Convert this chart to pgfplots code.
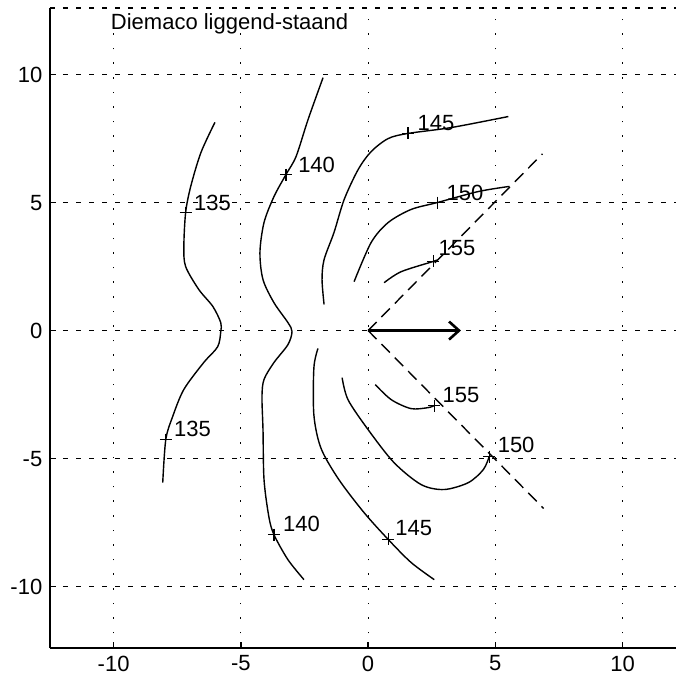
\documentclass[border=0pt]{standalone}
\usepackage{fontspec}
\setmainfont{Liberation Sans}
\usepackage{pgfplots}
\pgfplotsset{compat=1.18}
\usetikzlibrary{arrows.meta}
\tikzset{lbl/.style={anchor=west, inner sep=0pt, font=\fontsize{11}{13}\selectfont}}
\begin{document}
\fontsize{11}{13}\selectfont
\begin{tikzpicture}
\begin{axis}[
 scale only axis, width=313pt, height=320pt,
 xmin=-12.5, xmax=12.1, ymin=-12.4, ymax=12.6,
 axis x line=bottom, axis y line=left,
 axis line style={-, line width=1.2pt},
 xtick={-10,-5,0,5,10}, ytick={-10,-5,0,5,10},
 tick align=inside, major tick length=3pt,
 tick style={black, line width=0.7pt},
 grid=major,
 x grid style={black, line width=0.55pt, dash pattern=on 0.8pt off 6.5pt},
 y grid style={black, line width=0.55pt, dash pattern=on 2.5pt off 4pt},
 /pgf/number format/assume math mode=true,
 ticklabel style={font=\fontsize{11}{13}\selectfont},
 clip=false,
 curve/.style={black, line width=0.7pt, smooth, tension=0.5},
 mk/.style={black, only marks, mark=+, mark size=3pt, mark options={line width=0.7pt}},
]
\draw[black, line width=0.55pt, dash pattern=on 2.5pt off 4pt] (axis cs:-12.5,12.6) -- (axis cs:12.1,12.6);

% 135
\addplot[curve] coordinates {(-6.02,8.13) (-6.57,6.95) (-6.97,5.63) (-7.17,4.61) (-7.24,3.28) (-7.17,2.5) (-6.65,1.6) (-6.10,0.94) (-5.79,0.31) (-5.79,-0.04) (-5.91,-0.63) (-6.46,-1.25) (-7.24,-2.30) (-7.68,-3.36) (-7.95,-4.26) (-8.07,-5.94)};
% 140
\addplot[curve] coordinates {(-1.77,9.88) (-2.36,8.24) (-2.83,6.80) (-3.23,6.09) (-3.70,5.23) (-4.09,4.22) (-4.25,3.05) (-4.13,1.99) (-3.70,1.09) (-3.15,0.31) (-2.99,-0.04) (-3.15,-0.55) (-3.70,-1.25) (-4.09,-1.91) (-4.17,-2.58) (-4.13,-3.87) (-4.09,-5.82) (-3.90,-7.27) (-3.70,-7.97) (-3.15,-8.95) (-2.52,-9.73)};
% 145 upper
\addplot[curve] coordinates {(5.51,8.36) (3.27,7.93) (1.57,7.70) (0.79,7.5) (0.12,6.99) (-0.39,6.29) (-0.94,5.12) (-1.34,3.83) (-1.73,2.77) (-1.81,1.99) (-1.73,1.02)};
% 145 lower
\addplot[curve] coordinates {(-1.97,-0.70) (-2.13,-1.45) (-2.13,-3.30) (-1.85,-4.60) (-1.15,-5.82) (-0.16,-7.11) (0.79,-8.16) (1.69,-9.06) (2.60,-9.73)};
% 150 upper
\addplot[curve] coordinates {(5.55,5.63) (4.33,5.43) (2.72,5.0) (1.69,4.73) (0.79,4.22) (0.12,3.44) (-0.55,1.91)};
% 150 lower
\addplot[curve] coordinates {(-1.02,-1.84) (-0.79,-2.70) (0,-3.87) (1.02,-5.16) (2.09,-6.02) (2.99,-6.21) (3.94,-5.94) (4.53,-5.43) (4.76,-4.92)};
% 155 upper
\addplot[curve] coordinates {(0.63,1.87) (1.30,2.30) (2.56,2.70) (2.70,2.76)};
% 155 lower
\addplot[curve] coordinates {(0.28,-2.11) (0.91,-2.70) (1.69,-3.05) (2.36,-3.01) (2.60,-2.93)};

% dashed rays
\addplot[black, line width=0.7pt, dash pattern=on 6pt off 3.5pt] coordinates {(0,0) (6.85,6.9)};
\addplot[black, line width=0.7pt, dash pattern=on 6pt off 3.5pt] coordinates {(0,0) (6.9,-6.95)};
% arrow
\addplot[black, line width=1.3pt, -{Straight Barb[length=5pt,width=9pt]}] coordinates {(0,0) (3.65,0)};

% markers
\addplot[mk] coordinates {(-7.17,4.61) (-7.95,-4.26) (-3.23,6.09) (-3.70,-7.97) (1.57,7.70) (0.79,-8.16) (2.72,5.0) (4.76,-4.92) (2.56,2.70) (2.60,-2.93)};

\node[lbl] at (axis cs:-6.85,5.0) {135};
\node[lbl] at (axis cs:-7.64,-3.83) {135};
\node[lbl] at (axis cs:-2.76,6.48) {140};
\node[lbl] at (axis cs:-3.35,-7.54) {140};
\node[lbl] at (axis cs:1.93,8.12) {145};
\node[lbl] at (axis cs:1.06,-7.73) {145};
\node[lbl] at (axis cs:3.07,5.39) {150};
\node[lbl] at (axis cs:5.08,-4.45) {150};
\node[lbl] at (axis cs:2.76,3.24) {155};
\node[lbl] at (axis cs:2.91,-2.50) {155};
\node[lbl] at (axis cs:-10.12,12.0) {Diemaco liggend-staand};
\end{axis}
\pgfresetboundingbox
\path ([xshift=-25pt,yshift=-20pt]current axis.south west) rectangle ([yshift=4pt]current axis.north east);
\end{tikzpicture}
\end{document}
